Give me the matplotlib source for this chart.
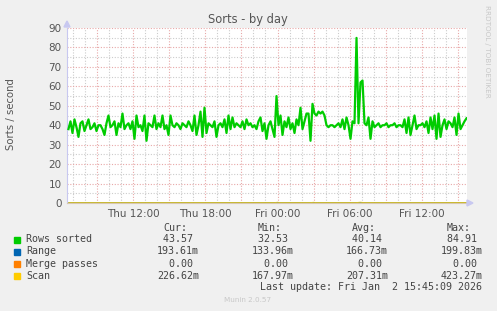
import numpy as np
import matplotlib.pyplot as plt
from matplotlib.patches import Rectangle

# 数据 (每10分钟一个点, 单位: sorts/second)
rows_sorted = [
    38, 42, 36, 43, 39, 34, 41, 42, 37, 40, 43, 38, 39, 41, 37, 40,
    40, 38, 35, 41, 45, 39, 40, 42, 35, 41, 39, 46, 38,
    40, 41, 38, 42, 33, 45, 39, 40, 37, 45, 32, 41, 40, 39, 45, 38, 41,
    39, 45, 38, 40, 35, 45, 40, 39, 41, 40, 38, 41, 40, 39, 42, 40, 37, 45, 35, 40,
    47, 34, 49, 36, 41, 40, 39, 42, 34, 40, 41, 39, 43, 36, 45,
    38, 44, 39, 41, 40, 39, 42, 38, 43, 40, 41, 39, 40, 38, 42, 44, 37, 41, 33, 40,
    42, 38, 34, 55, 40, 45, 35, 42, 39, 44, 38, 41, 36, 43, 40,
    49, 38, 42, 46, 46, 32, 51, 46, 45, 47, 46, 47, 45,
    40, 39, 40, 40, 39, 40, 41, 39, 43, 38, 44, 40, 33, 42, 41,
    84.91, 41, 62, 63, 41, 40, 44,
    33, 42, 39, 40, 41, 39, 40, 40, 41, 39, 40, 40, 41, 39, 40,
    40, 39, 43, 36, 44, 35, 40, 45, 38, 40,
    40, 41, 39, 42, 36, 44, 38, 45, 33, 46,
    34, 40, 43, 38, 42, 41, 39, 44, 35, 46, 38, 40, 42, 43.57,
]
# 其余三个序列都接近0
range_times = [6.6, 12, 18, 24, 30, 36, 39.75]
range_vals = [0.17, 0.16, 0.17, 0.18, 0.17, 0.16, 0.19]
merge_times = [6.6, 39.75]
merge_vals = [0.0, 0.0]
scan_times = [6.6, 12, 18, 23.8, 24.0, 24.2, 26.8, 27.0, 27.2, 30.6, 30.9, 31.2, 36, 39.75]
scan_vals = [0.21, 0.20, 0.21, 0.21, 0.40, 0.21, 0.21, 0.38, 0.21, 0.21, 0.42, 0.21, 0.20, 0.23]

tick_hours = [12, 18, 24, 30, 36]
tick_labels = ['Thu 12:00', 'Thu 18:00', 'Fri 00:00', 'Fri 06:00', 'Fri 12:00']

names = ['Rows sorted', 'Range', 'Merge passes', 'Scan']
colors = ['#00cc00', '#0066b3', '#ff8000', '#ffcc00']
cur = ['43.57 ', '193.61m', '0.00 ', '226.62m']
mins = ['32.53 ', '133.96m', '0.00 ', '167.97m']
avgs = ['40.14 ', '166.73m', '0.00 ', '207.31m']
maxs = ['84.91 ', '199.83m', '0.00 ', '423.27m']

W, H = 497, 311
t_end = 39.75
times = t_end - (len(rows_sorted) - 1 - np.arange(len(rows_sorted))) / 6.0

fig = plt.figure(figsize=(W / 100, H / 100), dpi=100, facecolor='#f0f0f0')
ax = fig.add_axes([67 / W, 1 - 203 / H, 400 / W, 175 / H])
ax.set_facecolor('white')

# 网格
for h in np.arange(7, 40, 1):
    c = '#e8a8a8' if h % 3 == 0 else '#cccccc'
    ax.axvline(h, color=c, linestyle=(0, (1, 1.5)), linewidth=0.8, zorder=1)
for v in range(5, 91, 5):
    c = '#e8a8a8' if v % 10 == 0 else '#cccccc'
    ax.axhline(v, color=c, linestyle=(0, (1, 1.5)), linewidth=0.8, zorder=1)

ax.plot(times, rows_sorted, color=colors[0], linewidth=1.6, zorder=3)
ax.plot(range_times, range_vals, color=colors[1], linewidth=0.6, zorder=4)
ax.plot(merge_times, merge_vals, color=colors[2], linewidth=0.6, alpha=0.6, zorder=4)
ax.plot(scan_times, scan_vals, color=colors[3], linewidth=0.7, alpha=0.8, zorder=5)

ax.set_xlim(6.46, 39.79)
ax.set_ylim(0, 90)
ax.set_xticks(tick_hours)
ax.set_xticklabels(tick_labels)
ax.set_yticks(range(0, 91, 10))
ax.tick_params(length=0, labelsize=7.5, colors='#555555', pad=4)
for s in ['top', 'right']:
    ax.spines[s].set_visible(False)
ax.spines['left'].set_color('#c8c8f0')
ax.spines['bottom'].set_color('#d8c8b0')
ax.spines['left'].set_zorder(2)
ax.spines['bottom'].set_zorder(2)

# 坐标轴箭头
fig.patches.append(plt.Polygon([[64 / W, 1 - 27 / H], [70 / W, 1 - 27 / H], [67 / W, 1 - 21 / H]],
                               closed=True, color='#c8c8f0', transform=fig.transFigure))
fig.patches.append(plt.Polygon([[467 / W, 1 - 200 / H], [467 / W, 1 - 206 / H], [473 / W, 1 - 203 / H]],
                               closed=True, color='#c8c8f0', transform=fig.transFigure))

fig.text(248 / W, 1 - 19 / H, 'Sorts - by day', ha='center', va='center', fontsize=8.3, color='#555555')
fig.text(11 / W, 1 - 114.5 / H, 'Sorts / second', rotation=90, ha='center', va='center',
         fontsize=7.3, color='#555555')
fig.text(487 / W, 1 - 5 / H, 'RRDTOOL / TOBI OETIKER', rotation=270, ha='center', va='top',
         fontsize=5.2, color='#c8c8c8')

# 图例表格
mono = dict(family='DejaVu Sans Mono', fontsize=7.2, color='#444444', va='center')
fig.text(163 / W, 1 - 228 / H, 'Cur:', ha='left', **mono)
fig.text(258 / W, 1 - 228 / H, 'Min:', ha='left', **mono)
fig.text(352 / W, 1 - 228 / H, 'Avg:', ha='left', **mono)
fig.text(447 / W, 1 - 228 / H, 'Max:', ha='left', **mono)
row_y = [239.5, 251.5, 263.7, 275.7]
for i, name in enumerate(names):
    y = 1 - row_y[i] / H
    fig.patches.append(Rectangle((14 / W, y - 3 / H), 6 / W, 6 / H, color=colors[i],
                                 transform=fig.transFigure))
    fig.text(26 / W, y, name, ha='left', **mono)
    fig.text(199 / W, y, cur[i], ha='right', **mono)
    fig.text(294 / W, y, mins[i], ha='right', **mono)
    fig.text(388 / W, y, avgs[i], ha='right', **mono)
    fig.text(483 / W, y, maxs[i], ha='right', **mono)
fig.text(482 / W, 1 - 287.5 / H, 'Last update: Fri Jan  2 15:45:09 2026', ha='right', **mono)
fig.text(248 / W, 1 - 300 / H, 'Munin 2.0.57', ha='center', va='center', fontsize=5.2, color='#c8c8c8')

fig.savefig('out.png', dpi=100, facecolor=fig.get_facecolor())
